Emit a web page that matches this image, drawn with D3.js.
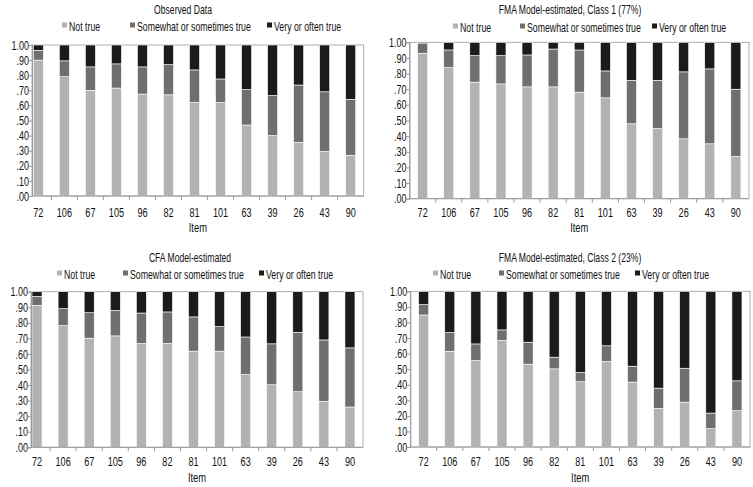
<!DOCTYPE html>
<html><head><meta charset="utf-8">
<script src="https://cdn.jsdelivr.net/npm/d3@7"></script>
<style>
body{margin:0;background:#fff;}
svg{display:block;font-family:"Liberation Sans",Arial,sans-serif;}
</style></head>
<body><svg id="c" width="753" height="487"></svg>
<script>
// ---- data ----
const items = ["72","106","67","105","96","82","81","101","63","39","26","43","90"];
const seriesNames = ["Not true","Somewhat or sometimes true","Very or often true"];
const yTicks = [0,.1,.2,.3,.4,.5,.6,.7,.8,.9,1];
const titles = ["Observed Data","FMA Model-estimated, Class 1 (77%)","CFA Model-estimated","FMA Model-estimated, Class 2 (23%)"];

// proportions: Not true, Somewhat (Very = remainder)
const observedNot  = [.90,.79,.70,.715,.675,.67,.62,.62,.47,.40,.355,.295,.27];
const observedSome = [.065,.105,.155,.16,.18,.20,.215,.155,.235,.265,.38,.395,.37];
const class1Not    = [.93,.838,.745,.734,.715,.715,.681,.645,.479,.449,.383,.351,.27];
const class1Some   = [.061,.113,.17,.181,.204,.242,.27,.172,.278,.308,.428,.479,.43];
const cfaNot       = [.912,.782,.701,.716,.667,.667,.618,.618,.468,.402,.357,.295,.259];
const cfaSome      = [.058,.109,.164,.164,.196,.203,.22,.158,.241,.263,.382,.395,.38];
const class2Not    = [.848,.615,.556,.684,.532,.502,.419,.549,.417,.248,.288,.118,.233];
const class2Some   = [.067,.12,.106,.068,.141,.075,.06,.101,.102,.13,.218,.10,.192];

const panelData = [[observedNot,observedSome],[class1Not,class1Some],[cfaNot,cfaSome],[class2Not,class2Some]];
const colors = ["#b2b2b2","#6f6f6f","#1b1b1b"];

// ---- layout ----
const layout = [
  {axisX:32,  band:[25.3,363.7], yTop:45,   yBot:196,   right:363.7, titleX:183, titleY:14,  legY:26,  legX:[65,133,270], tickY:217, itemY:232},
  {axisX:409.5,band:[409.6,748.9],yTop:42.3,yBot:198.7, right:749,   titleX:570, titleY:14,  legY:27,  legX:[456,523,655], tickY:217, itemY:232},
  {axisX:31,  band:[24,363],     yTop:291.7,yBot:447.3, right:363,   titleX:190, titleY:262, legY:274, legX:[60,126,262], tickY:466, itemY:482},
  {axisX:410.3,band:[410.6,750], yTop:291.3,yBot:447,   right:750,   titleX:570, titleY:262, legY:274, legX:[436,502,638], tickY:466, itemY:482}
];

const svg = d3.select("#c");
const fmt = v => v===1 ? "1.00" : d3.format(".2f")(v).replace(/^0/,"");
const SX = 0.7;

function label(g, x, y, txt, size, anchor, sx){
  return g.append("text").attr("transform",`translate(${x},${y}) scale(${sx},1)`)
    .attr("text-anchor",anchor).attr("font-size",size).attr("fill","#111").text(txt);
}

layout.forEach((L,pi)=>{
  const [nt, sw] = panelData[pi];
  const rows = items.map((it,i)=>({item:it, a:nt[i], b:sw[i], c:1-nt[i]-sw[i]}));
  const stack = d3.stack().keys(["a","b","c"])(rows);
  const x = d3.scaleBand().domain(items).range(L.band).paddingInner(0.615).paddingOuter(0.3075);
  const y = d3.scaleLinear().domain([0,1]).range([L.yBot,L.yTop]);
  const g = svg.append("g");

  // plot border
  g.append("rect").attr("x",L.axisX).attr("y",L.yTop).attr("width",L.right-L.axisX).attr("height",L.yBot-L.yTop)
    .attr("fill","none").attr("stroke","#9a9a9a").attr("stroke-width",0.8);

  // bars
  stack.forEach((s,si)=>{
    g.append("g").selectAll("rect").data(s).join("rect")
      .attr("x",d=>x(d.data.item))
      .attr("width",x.bandwidth())
      .attr("y",d=>y(d[1]))
      .attr("height",d=>Math.max(0,y(d[0])-y(d[1])))
      .attr("fill",colors[si])
      .attr("stroke","#fff").attr("stroke-width",0.6);
  });

  // y axis
  const ya = d3.axisLeft(y).tickValues(yTicks).tickFormat(fmt).tickSize(3).tickPadding(1);
  const yg = g.append("g").attr("transform",`translate(${L.axisX},0)`).call(ya);
  yg.select(".domain").attr("stroke","#9a9a9a");
  yg.selectAll(".tick line").attr("stroke","#9a9a9a");
  yg.selectAll("text").attr("font-size",12.8).attr("fill","#111").attr("font-family",null)
    .attr("x",-3/SX).attr("transform",`scale(${SX},1)`);

  // x axis baseline & separators
  g.append("line").attr("x1",L.axisX).attr("x2",L.right).attr("y1",L.yBot).attr("y2",L.yBot).attr("stroke","#9a9a9a");
  const step = x.step();
  items.slice(0,-1).forEach((it,i)=>{
    const xx = x(it)+x.bandwidth()/2+step/2;
    g.append("line").attr("x1",xx).attr("x2",xx).attr("y1",L.yBot).attr("y2",L.yBot+4).attr("stroke","#9a9a9a");
  });
  items.forEach(d=>label(g, x(d)+x.bandwidth()/2, L.tickY, d, 13, "middle", SX));
  label(g,(L.axisX+L.right)/2, L.itemY, "Item", 12.5, "middle", 0.75);

  // title
  label(g, L.titleX, L.titleY, titles[pi], 12.3, "middle", 0.7);

  // legend
  seriesNames.forEach((n,si)=>{
    g.append("rect").attr("x",L.legX[si]-3).attr("y",L.legY-3.5).attr("width",5).attr("height",5).attr("fill",colors[si]);
    label(g, L.legX[si]+4, L.legY+4.5, n, 12, "start", 0.73);
  });
});
</script></body></html>
